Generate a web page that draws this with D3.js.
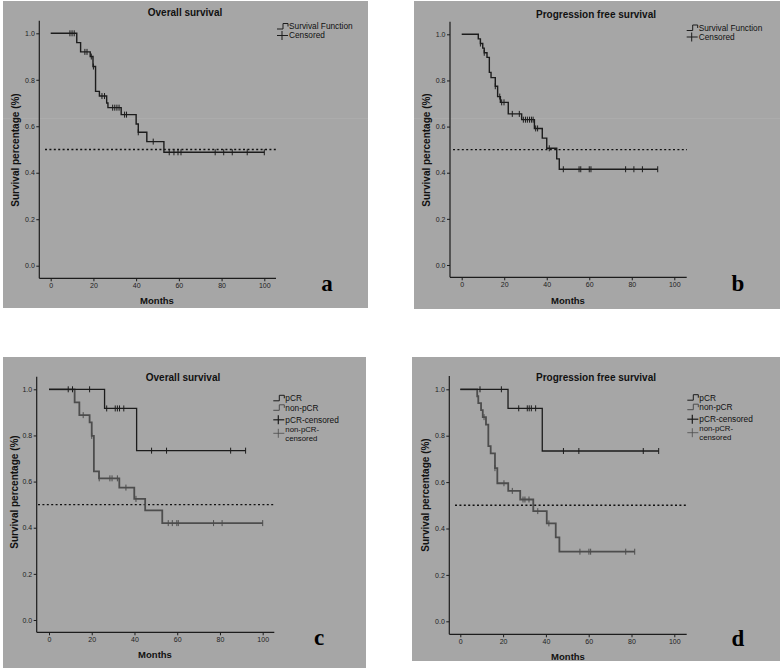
<!DOCTYPE html>
<html><head><meta charset="utf-8">
<script src="https://cdn.jsdelivr.net/npm/d3@7"></script>
<style>
html,body{margin:0;padding:0;background:#fff;}
svg{display:block;}
</style></head>
<body>
<svg id="chart" width="780" height="671"></svg>
<script>
// ---------- data ----------
const xTicks = [0, 20, 40, 60, 80, 100];
const yTicks = [0.0, 0.2, 0.4, 0.6, 0.8, 1.0];
const medianLine = 0.5;

const panelTitles = ["Overall survival", "Progression free survival", "Overall survival", "Progression free survival"];
const panelLetters = ["a", "b", "c", "d"];
const legendAB = ["Survival Function", "Censored"];
const legendCD = ["pCR", "non-pCR", "pCR-censored", "non-pCR-|censored"];

// panel a: overall survival, all patients  [months, survival]
const osAll = [[0,1],[12.2,0.96],[14,0.92],[18.5,0.90],[19.8,0.857],[21,0.75],[22.8,0.73],[26.2,0.70],[26.8,0.68],[33,0.65],[40,0.61],[41,0.574],[45,0.534],[53,0.488],[100,0.488]];
const osAllCensored = [[9,1],[10,1],[11,1],[16,0.92],[17,0.92],[19,0.90],[20,0.857],[24,0.73],[25.2,0.73],[29,0.68],[30,0.68],[31,0.68],[32,0.68],[34.6,0.65],[35.5,0.65],[41,0.574],[48,0.534],[55.5,0.488],[57.7,0.488],[59.6,0.488],[61,0.488],[77,0.488],[81,0.488],[85,0.488],[92,0.488],[100,0.488]];

// panel b: progression free survival, all patients
const pfsAll = [[0,1],[7.8,0.98],[8.8,0.96],[9.9,0.94],[10.6,0.92],[11.9,0.90],[13,0.835],[13.8,0.812],[15.8,0.775],[16.9,0.73],[18.2,0.705],[21.9,0.655],[28.2,0.63],[34.2,0.592],[37.9,0.55],[40,0.506],[44.7,0.46],[45.9,0.415],[92.2,0.415]];
const pfsAllCensored = [[8.8,0.96],[10.6,0.92],[15.8,0.775],[17.9,0.73],[18.8,0.705],[19.9,0.705],[23.8,0.655],[27.1,0.655],[29,0.63],[30,0.63],[30.9,0.63],[31.9,0.63],[32.8,0.63],[33.6,0.63],[34.8,0.592],[35.7,0.592],[41.2,0.506],[47.8,0.415],[55.2,0.415],[56,0.415],[60,0.415],[60.8,0.415],[77.1,0.415],[81,0.415],[85,0.415],[92.2,0.415]];

// panel c: overall survival by pCR
const osPcr = [[0,1],[26,0.917],[41,0.734],[92,0.734]];
const osPcrCensored = [[9,1],[11,1],[19,1],[27,0.917],[31,0.917],[32,0.917],[33,0.917],[35,0.917],[48,0.734],[55,0.734],[85,0.734],[92,0.734]];
const osNonPcr = [[0,1],[12,0.943],[14.2,0.888],[19,0.857],[20,0.798],[21,0.644],[23.4,0.614],[32.9,0.574],[39.9,0.525],[45,0.475],[53,0.42],[100,0.42]];
const osNonPcrCensored = [[16,0.888],[20,0.798],[23.5,0.614],[28.5,0.614],[29.5,0.614],[32,0.614],[36,0.574],[40.7,0.525],[55.8,0.42],[57.7,0.42],[59.8,0.42],[60.5,0.42],[77,0.42],[81,0.42],[100,0.42]];

// panel d: progression free survival by pCR
const pfsPcr = [[0,1],[22.3,0.918],[38.3,0.734],[92.7,0.734]];
const pfsPcrCensored = [[9.2,1],[19.2,1],[27.3,0.918],[31.3,0.918],[32.2,0.918],[33.2,0.918],[35.2,0.918],[48.2,0.734],[55.4,0.734],[85.5,0.734],[92.7,0.734]];
const pfsNonPcr = [[0,1],[7.9,0.97],[8.4,0.94],[9.7,0.91],[10.5,0.88],[12,0.848],[13.1,0.755],[14.2,0.724],[16.2,0.66],[17.3,0.595],[22.4,0.562],[28,0.525],[34.1,0.475],[40.4,0.422],[44.6,0.362],[46.3,0.30],[81.5,0.30]];
const pfsNonPcrCensored = [[11.1,0.88],[16.2,0.66],[20.4,0.595],[24.3,0.562],[29.3,0.525],[30.2,0.525],[32.1,0.525],[36.2,0.475],[41.4,0.422],[55.9,0.30],[60.1,0.30],[60.9,0.30],[77.3,0.30],[81.5,0.30]];

// ---------- layout ----------
const BG = "#a6a6a6";
const INK = "#1c1c1c";
const GRAYINK = "#4d4d4d";

const frames = [
  {bg:[3,1,365,307], xl:39.3, x0:50.7, x100:264.3, xr:276, yb:278.3, y0:265.7, y1:33.3, yt:20.7,
   title:[185,16], xlab:[157,304], ylab:[15,150], letter:[327,291], dash:[45,277], leg:[277,26.5]},
  {bg:[414,1,366,308], xl:450, x0:461.7, x100:674.3, xr:686.7, yb:277.3, y0:265, y1:34.3, yt:21.7,
   title:[596,18], xlab:[568,303.5], ylab:[426.5,150], letter:[738,291], dash:[453,687], leg:[686.7,28]},
  {bg:[3,357,363,311], xl:36.7, x0:49, x100:262.7, xr:274.3, yb:632.3, y0:620, y1:389.3, yt:376.7,
   title:[183,381], xlab:[155,658], ylab:[14,492], letter:[319,645], dash:[38,275], leg:[273.3,398.3]},
  {bg:[412,357,368,304], xl:449.3, x0:460.3, x100:674.3, xr:686.7, yb:634.3, y0:621.3, y1:389.3, yt:376,
   title:[596,381], xlab:[568,660], ylab:[425,495], letter:[738,646], dash:[455,687], leg:[687.3,397.7]}
];

const svg = d3.select("#chart");
const FONT = "'Liberation Sans', Arial, sans-serif";

function drawPanel(i, series) {
  const f = frames[i];
  const g = svg.append("g");
  g.append("rect").attr("x",f.bg[0]).attr("y",f.bg[1]).attr("width",f.bg[2]).attr("height",f.bg[3]).attr("fill",BG);
  if (i < 2) g.append("line").attr("x1",f.bg[0]).attr("x2",f.bg[0]+f.bg[2]).attr("y1",118.5).attr("y2",118.5)
      .attr("stroke","#adadad").attr("stroke-width",0.8);

  const x = d3.scaleLinear().domain([0,100]).range([f.x0, f.x100]);
  const y = d3.scaleLinear().domain([0,1]).range([f.y0, f.y1]);

  // axes
  const ax = g.append("g").attr("transform",`translate(0,${f.yb})`)
    .call(d3.axisBottom(x).tickValues(xTicks).tickSize(3).tickPadding(2).tickFormat(d3.format("d")));
  const ay = g.append("g").attr("transform",`translate(${f.xl},0)`)
    .call(d3.axisLeft(y).tickValues(yTicks).tickSize(3).tickPadding(1.5).tickFormat(d3.format(".1f")));
  [ax, ay].forEach(a => {
    a.select(".domain").remove();
    a.selectAll(".tick line").attr("stroke",INK).attr("stroke-width",1);
    a.selectAll(".tick text").attr("fill","#222").style("font-family",FONT).style("font-size","7px");
  });
  g.append("line").attr("x1",f.xl).attr("x2",f.xl).attr("y1",f.yt).attr("y2",f.yb).attr("stroke",INK).attr("stroke-width",1.2);
  g.append("line").attr("x1",f.xl).attr("x2",f.xr).attr("y1",f.yb).attr("y2",f.yb).attr("stroke",INK).attr("stroke-width",1.2);

  // median dashed line
  g.append("line").attr("x1",f.dash[0]).attr("x2",f.dash[1]).attr("y1",y(medianLine)).attr("y2",y(medianLine))
    .attr("stroke","#111").attr("stroke-width",1.4).attr("stroke-dasharray","2,2.4");

  const line = d3.line().x(d=>x(d[0])).y(d=>y(d[1])).curve(d3.curveStepAfter);
  series.forEach(s => {
    g.append("path").datum(s.steps).attr("d",line).attr("fill","none")
      .attr("stroke",s.color).attr("stroke-width",s.width);
    g.selectAll(null).data(s.censored).join("line")
      .attr("x1",d=>x(d[0])).attr("x2",d=>x(d[0]))
      .attr("y1",d=>y(d[1])-3).attr("y2",d=>y(d[1])+3)
      .attr("stroke",s.color).attr("stroke-width",1);
  });

  // titles
  g.append("text").attr("x",f.title[0]).attr("y",f.title[1]).attr("text-anchor","middle")
    .style("font-family",FONT).style("font-weight","bold").style("font-size","10px").attr("fill","#111").text(panelTitles[i]);
  g.append("text").attr("x",f.xlab[0]).attr("y",f.xlab[1]).attr("text-anchor","middle")
    .style("font-family",FONT).style("font-weight","bold").style("font-size","9.5px").attr("fill","#111").text("Months");
  g.append("text").attr("transform",`translate(${f.ylab[0]},${f.ylab[1]}) rotate(-90)`).attr("text-anchor","middle")
    .attr("dy","0.35em")
    .style("font-family",FONT).style("font-weight","bold").style("font-size","10px").attr("fill","#111").text("Survival percentage (%)");
  g.append("text").attr("x",f.letter[0]).attr("y",f.letter[1]).attr("text-anchor","middle")
    .style("font-family","'Liberation Serif','Times New Roman',serif").style("font-weight","bold").style("font-size","23px")
    .attr("fill","#000").text(panelLetters[i]);

  // legend
  const lx = f.leg[0], ly = f.leg[1];
  const stepIcon = (yy, col) => g.append("path")
    .attr("d",`M${lx},${yy+2.5}H${lx+6}V${yy-3}H${lx+11}V${yy}`).attr("fill","none").attr("stroke",col).attr("stroke-width",1);
  const censIcon = (yy, col, w) => {
    g.append("line").attr("x1",lx).attr("x2",lx+11).attr("y1",yy).attr("y2",yy).attr("stroke",col).attr("stroke-width",w);
    g.append("line").attr("x1",lx+5).attr("x2",lx+5).attr("y1",yy-4.5).attr("y2",yy+4.5).attr("stroke",col).attr("stroke-width",w);
  };
  const ltext = (yy, t, fs) => g.append("text").attr("x",lx+12).attr("y",yy).attr("dy","0.35em")
    .style("font-family",FONT).style("font-size",(fs||8.3)+"px").attr("fill","#111").text(t);
  if (i < 2) {
    stepIcon(ly, INK); ltext(ly, legendAB[0]);
    censIcon(ly+9, INK, 1); ltext(ly+9, legendAB[1]);
  } else {
    stepIcon(ly, INK); ltext(ly, legendCD[0]);
    stepIcon(ly+9.5, GRAYINK); ltext(ly+9.5, legendCD[1]);
    censIcon(ly+21.5, INK, 1.2); ltext(ly+21.5, legendCD[2]);
    censIcon(ly+35, GRAYINK, 0.8);
    const parts = legendCD[3].split("|");
    ltext(ly+30.5, parts[0], 7.8); ltext(ly+39.5, parts[1], 7.8);
  }
}

drawPanel(0, [{steps:osAll, censored:osAllCensored, color:INK, width:1.4}]);
drawPanel(1, [{steps:pfsAll, censored:pfsAllCensored, color:INK, width:1.4}]);
drawPanel(2, [
  {steps:osNonPcr, censored:osNonPcrCensored, color:GRAYINK, width:1.8},
  {steps:osPcr, censored:osPcrCensored, color:INK, width:1.3}]);
drawPanel(3, [
  {steps:pfsNonPcr, censored:pfsNonPcrCensored, color:GRAYINK, width:1.8},
  {steps:pfsPcr, censored:pfsPcrCensored, color:INK, width:1.3}]);
</script>
</body></html>
